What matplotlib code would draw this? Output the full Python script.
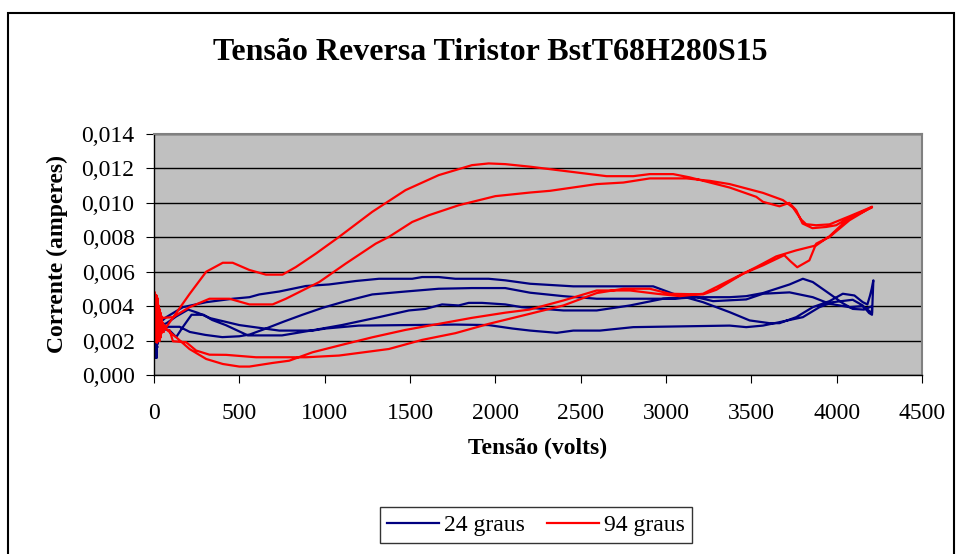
import matplotlib
matplotlib.use("Agg")
import matplotlib.pyplot as plt
from matplotlib.patches import Rectangle
import numpy as np

plt.rcParams['font.family'] = ['Liberation Serif', 'DejaVu Serif']

# --- 24 graus: scribble at 0 V, then four branches of the sweep
blue_noise_v = [0, 8, 2, 14, 5, 18, 1, 11, 20, 4, 16, 7, 12, 3, 22, 6, 10, 2]
blue_noise_i = [0.0028, 0.0011, 0.0035, 0.0010, 0.0030, 0.0016, 0.0033, 0.0012, 0.0025, 0.0014, 0.0031, 0.0010,
                0.0022, 0.0018, 0.0020, 0.0011, 0.0027, 0.0013]

blue_up1_v = [40, 72, 130, 200, 260, 330, 500, 734, 929, 1006, 1200, 1474, 1766, 1961, 2100, 2204, 2360, 2457,
              2613, 2808, 3373, 3470, 3568, 3665, 3802, 3899, 3977, 4094, 4153, 4190, 4207]
blue_up1_i = [0.0029, 0.0030, 0.0034, 0.0038, 0.0036, 0.0033, 0.0029, 0.00258, 0.00258, 0.0027, 0.00287, 0.0029,
              0.00293, 0.0029, 0.0027, 0.00258, 0.00245, 0.00258, 0.00258, 0.00278, 0.00287, 0.00278, 0.00287,
              0.00307, 0.00336, 0.00394, 0.00423, 0.00437, 0.00404, 0.0036, 0.0035]

blue_down1_v = [4215, 4205, 4195, 4180, 4153, 4104, 4036, 3958, 3860, 3763, 3665, 3607, 3490, 3373, 3217, 3042,
                2925, 2711, 2457, 2204, 2058, 1961, 1766, 1668, 1571, 1513, 1318, 1182, 1026, 890, 734, 617,
                559, 461, 306, 169, 72, 30]
blue_down1_i = [0.0055, 0.0050, 0.0046, 0.0041, 0.00423, 0.00462, 0.00472, 0.00429, 0.00394, 0.00336, 0.00301,
                0.00301, 0.00317, 0.00365, 0.00423, 0.00472, 0.00515, 0.00515, 0.00515, 0.0053, 0.0055, 0.00559,
                0.00559, 0.00569, 0.00569, 0.00559, 0.00559, 0.00546, 0.00526, 0.00517, 0.00485, 0.00468,
                0.00452, 0.00443, 0.00423, 0.00394, 0.00336, 0.0030]

blue_up2_v = [35, 90, 130, 170, 220, 290, 340, 420, 550, 750, 930, 1100, 1318, 1494, 1591, 1688, 1785, 1844,
              1922, 2058, 2155, 2204, 2399, 2594, 2789, 2983, 3178, 3276, 3470, 3568, 3724, 3860, 3958, 4075,
              4150, 4180, 4207]
blue_up2_i = [0.0027, 0.0026, 0.0022, 0.0028, 0.0035, 0.0035, 0.0032, 0.0029, 0.0023, 0.0023, 0.0026, 0.0029,
              0.00336, 0.00375, 0.00384, 0.0041, 0.00404, 0.00419, 0.00419, 0.0041, 0.00394, 0.0039, 0.00375,
              0.00375, 0.00404, 0.00443, 0.00452, 0.00429, 0.00439, 0.00472, 0.0048, 0.00452, 0.00414,
              0.00394, 0.0040, 0.0038, 0.0036]

blue_down2_v = [4207, 4160, 4094, 4036, 3958, 3860, 3802, 3724, 3568, 3470, 3373, 3178, 3042, 2711, 2594, 2399,
                2204, 2058, 1863, 1668, 1474, 1279, 1123, 987, 870, 760, 656, 560, 500, 400, 300, 210, 150,
                72, 20]
blue_down2_i = [0.0040, 0.0038, 0.00384, 0.00417, 0.00472, 0.0054, 0.00559, 0.00526, 0.00476, 0.00458, 0.00452,
                0.00452, 0.00443, 0.00443, 0.00443, 0.00458, 0.00478, 0.00505, 0.00505, 0.00501, 0.00485,
                0.00468, 0.00429, 0.0039, 0.0035, 0.0031, 0.0027, 0.00235, 0.00225, 0.0022, 0.00233, 0.0025,
                0.0028, 0.0028, 0.0025]

# --- 94 graus
red_noise_v = [0, 12, 4, 20, 2, 30, 8, 45, 3, 25, 50, 6, 35, 15, 55, 1, 28, 10, 40, 5, 18, 48, 7, 22, 2, 33, 14,
               44, 9, 26, 0, 38, 11, 52, 4, 30, 16, 42, 6, 24]
red_noise_i = [0.0030, 0.0046, 0.0020, 0.0043, 0.0019, 0.0038, 0.0026, 0.0033, 0.0048, 0.0022, 0.0028, 0.0044,
               0.0021, 0.0039, 0.0025, 0.0047, 0.0020, 0.0041, 0.0031, 0.0045, 0.0019, 0.0030, 0.0042, 0.0023,
               0.0038, 0.0020, 0.0044, 0.0027, 0.0040, 0.0025, 0.0036, 0.0022, 0.0043, 0.0029, 0.0021, 0.0035,
               0.0046, 0.0024, 0.0039, 0.0032]

red_up1_v = [40, 130, 208, 306, 403, 500, 559, 695, 792, 929, 1084, 1279, 1474, 1668, 1863, 2058, 2200, 2399,
             2594, 2789, 2945, 3081, 3217, 3373, 3529, 3646, 3763, 3880, 3958, 4075, 4207]
red_up1_i = [0.0029, 0.00219, 0.00151, 0.00093, 0.00064, 0.00049, 0.00049, 0.0007, 0.00083, 0.00132, 0.00171,
             0.00219, 0.00262, 0.00297, 0.00332, 0.00362, 0.0038, 0.00433, 0.00491, 0.00491, 0.00472, 0.00458,
             0.00472, 0.0055, 0.00627, 0.00689, 0.00724, 0.00753, 0.00806, 0.00915, 0.00973]

red_down1_v = [4207, 4153, 4075, 3997, 3938, 3858, 3800, 3763, 3722, 3665, 3568, 3529, 3373, 3217, 3139, 3042,
               2905, 2808, 2652, 2399, 2204, 2058, 1961, 1863, 1668, 1474, 1279, 1084, 948, 831, 753, 656, 559,
               461, 403, 306, 208, 72, 30]
red_down1_i = [0.00977, 0.00948, 0.00915, 0.0087, 0.0086, 0.00853, 0.0088, 0.00957, 0.0100, 0.0098, 0.01006,
               0.01035, 0.01089, 0.01128, 0.01148, 0.01167, 0.01167, 0.01155, 0.01155, 0.01186, 0.0121, 0.01225,
               0.01229, 0.01219, 0.01161, 0.01074, 0.00948, 0.00802, 0.00705, 0.00627, 0.00583, 0.00583,
               0.0061, 0.00652, 0.00652, 0.0060, 0.0047, 0.00278, 0.0032]

red_up2_v = [40, 92, 111, 189, 247, 325, 423, 598, 890, 1084, 1376, 1571, 1766, 1961, 2200, 2399, 2594, 2750,
             2905, 3022, 3217, 3295, 3451, 3568, 3693, 3730, 3769, 3840, 3880, 3958, 4075, 4207]
red_up2_i = [0.0028, 0.00258, 0.00196, 0.0019, 0.00142, 0.00118, 0.00117, 0.00103, 0.00103, 0.00113, 0.00151,
             0.00204, 0.00243, 0.00297, 0.00355, 0.00404, 0.00476, 0.00501, 0.00501, 0.00472, 0.00468, 0.00495,
             0.00588, 0.00637, 0.00696, 0.0066, 0.00626, 0.00666, 0.00763, 0.00802, 0.00899, 0.00977]

red_down2_v = [4207, 4075, 3958, 3879, 3821, 3792, 3744, 3685, 3568, 3373, 3256, 3120, 2905, 2750, 2594, 2321,
               2204, 2000, 1785, 1610, 1513, 1376, 1299, 1123, 968, 831, 773, 695, 559, 442, 325, 208, 111, 25]
red_down2_i = [0.00977, 0.00922, 0.00875, 0.0087, 0.00876, 0.00903, 0.00973, 0.01016, 0.01058, 0.01109, 0.01128,
               0.01142, 0.01142, 0.01118, 0.01109, 0.0107, 0.0106, 0.01039, 0.00986, 0.00928, 0.00889, 0.00802,
               0.00763, 0.00647, 0.0054, 0.00472, 0.00443, 0.0041, 0.0041, 0.00443, 0.00443, 0.00394, 0.00336,
               0.0033]

blue_v = blue_noise_v + blue_up1_v + blue_down1_v + blue_noise_v[::-1] + blue_up2_v + blue_down2_v + blue_noise_v
blue_i = blue_noise_i + blue_up1_i + blue_down1_i + blue_noise_i[::-1] + blue_up2_i + blue_down2_i + blue_noise_i
red_v = red_noise_v + red_up1_v + red_down1_v + red_noise_v[::-1] + red_up2_v + red_down2_v + red_noise_v
red_i = red_noise_i + red_up1_i + red_down1_i + red_noise_i[::-1] + red_up2_i + red_down2_i + red_noise_i

fig = plt.figure(figsize=(9.56, 5.54), dpi=100)
# chart area frame, open at the bottom
fig.patches.append(Rectangle((8 / 956, -0.1), 946 / 956, 1.1 - 13 / 554, transform=fig.transFigure,
                             fill=False, edgecolor='black', linewidth=1.5))

ax = fig.add_axes([154 / 956, 1 - 375 / 554, 768 / 956, 241 / 554])
ax.set_facecolor('#C0C0C0')

ax.plot(blue_v, blue_i, color='#000080', lw=1.6, label='24 graus')
ax.plot(red_v, red_i, color='#FF0000', lw=1.6, label='94 graus')

ax.set_xlim(0, 4500)
ax.set_ylim(0, 0.014)
ax.set_xticks(np.arange(0, 4501, 500))
ax.set_yticks(np.arange(0, 0.0141, 0.002))
ax.set_yticklabels([f"{v:.3f}".replace('.', ',') for v in np.arange(0, 0.0141, 0.002)])
ax.grid(axis='y', color='black', lw=1)
ax.set_axisbelow(True)

for s in ['top', 'right']:
    ax.spines[s].set_color('#808080')
    ax.spines[s].set_linewidth(1.5)
for s in ['left', 'bottom']:
    ax.spines[s].set_color('black')
    ax.spines[s].set_linewidth(1)
ax.tick_params(axis='x', direction='out', length=6, labelsize=17, pad=14)
ax.tick_params(axis='y', direction='out', length=6, labelsize=17, pad=8)

ax.set_xlabel('Tensão (volts)', fontsize=17, fontweight='bold', labelpad=10)
ax.set_ylabel('Corrente (amperes)', fontsize=17, fontweight='bold', labelpad=10)
fig.text(490 / 956, 1 - 53 / 554, 'Tensão Reversa Tiristor BstT68H280S15', ha='center', va='center',
         fontsize=23, fontweight='bold')

leg = fig.legend(loc='center', bbox_to_anchor=(536 / 956, 1 - 525 / 554), ncol=2, fontsize=17,
                 frameon=True, fancybox=False, edgecolor='black', handlelength=2.2, columnspacing=0.9,
                 handletextpad=0.25, borderpad=0.3, borderaxespad=0)
leg.get_frame().set_linewidth(1)

fig.savefig('out.png', dpi=100)
